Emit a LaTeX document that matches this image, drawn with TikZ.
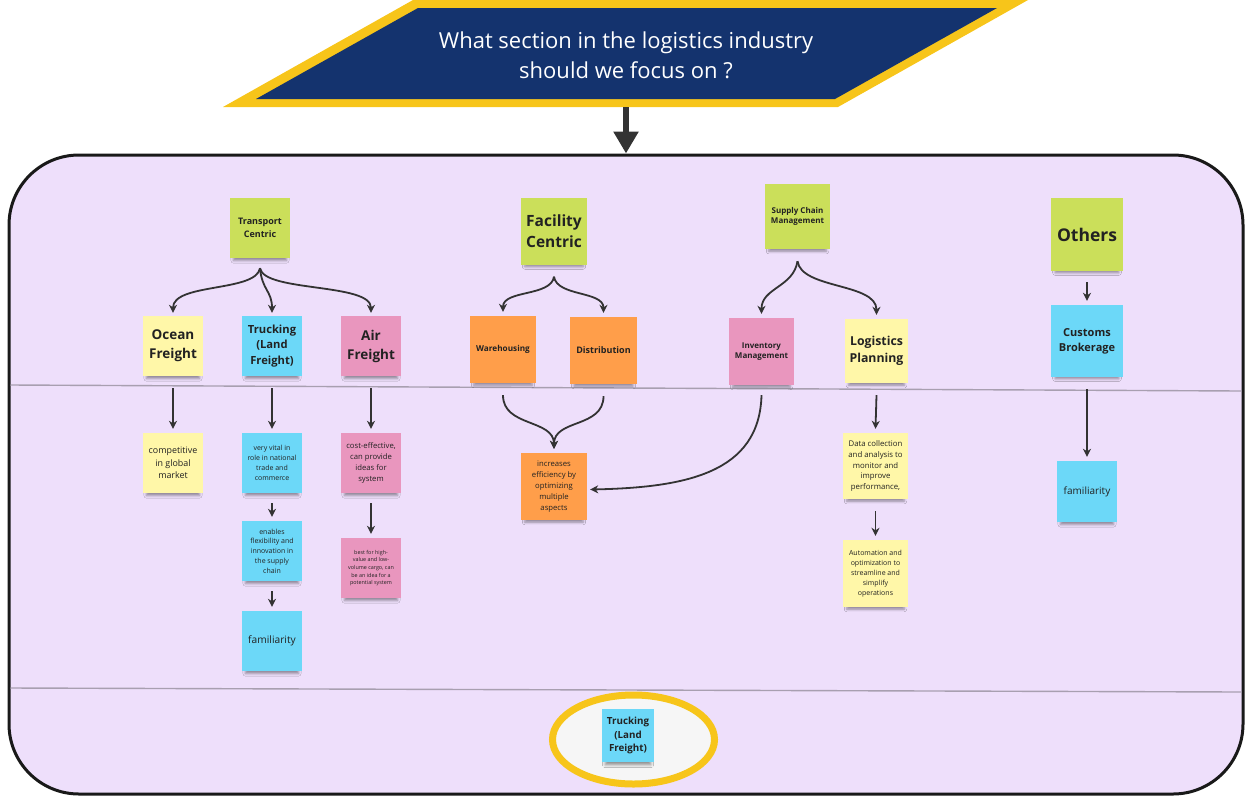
\documentclass[tikz,border=0pt]{standalone}
\usepackage{fontspec}
\setmainfont{Open Sans}
\usetikzlibrary{arrows.meta,shadows.blur,shapes.geometric}

\definecolor{lavender}{HTML}{EEDFFB}
\definecolor{navy}{HTML}{14336E}
\definecolor{gold}{HTML}{F7C51A}
\definecolor{ink}{HTML}{222222}
\definecolor{arrowgray}{HTML}{333333}
\definecolor{divgray}{HTML}{A89FB0}
\definecolor{stGreen}{HTML}{CBDF5A}
\definecolor{stYellow}{HTML}{FFF7A8}
\definecolor{stCyan}{HTML}{6CD8F8}
\definecolor{stPink}{HTML}{E996BE}
\definecolor{stOrange}{HTML}{FF9E4A}
\definecolor{pickfill}{HTML}{F6F6F6}

\newcommand\nf[2]{\fontsize{#1}{#2}\selectfont}

\tikzset{
  note/.style={rectangle, minimum width=60pt, minimum height=60pt, inner sep=1pt,
    align=center, text=ink,
    blur shadow={shadow xshift=0pt, shadow yshift=-7pt, shadow scale=0.88,
      shadow opacity=40, shadow blur radius=3pt}},
  green/.style={note, fill=stGreen},
  yellow/.style={note, fill=stYellow},
  cyan/.style={note, fill=stCyan},
  pink/.style={note, fill=stPink},
  orange/.style={note, fill=stOrange},
  conn/.style={draw=arrowgray, line width=1.8pt,
    -{Stealth[length=8pt,width=8pt,inset=2.5pt]}},
  divider/.style={draw=divgray, line width=1.4pt},
}

\begin{document}
\begin{tikzpicture}[x=1pt,y=-1pt]
\useasboundingbox (0,0) rectangle (1255,796);

% question banner
\fill[gold] (223,107) -- (838,107) -- (1028,0) -- (413,0) -- cycle;
\fill[navy] (256,99) -- (835,99) -- (997,8) -- (418,8) -- cycle;
\node[text=white, align=center, font=\nf{22}{30}] (q) at (626,55)
  {What section in the logistics industry\\should we focus on ?};
\coordinate (qbase) at (626,107);

% main frame
\node[draw=black!90, line width=3pt, fill=lavender, rounded corners=70pt,
  minimum width=1234pt, minimum height=639pt, inner sep=0pt] (frame) at (626,474.5) {};
\draw[arrowgray, line width=6pt, -{Triangle[length=22pt,width=24pt]}]
  (qbase) -- (frame.north);

\draw[divider] (10.5,385) -- (1241.5,391);
\draw[divider] (10.5,688) -- (1241.5,692);

% selected option
\node[ellipse, draw=gold, line width=7pt, fill=pickfill,
  minimum width=162pt, minimum height=89pt] (pick) at (633.5,739.5) {};
\node[cyan, minimum width=52pt, minimum height=53pt, font=\nf{9.8}{13.5}\bfseries]
  (pickt) at (628,735.5) {Trucking\\(Land\\Freight)};

% transport centric
\node[green, font=\nf{9}{12.5}\bfseries] (tc) at (260,228) {Transport\\Centric};
\node[yellow, font=\nf{13.5}{19}\bfseries] (ocean) at (173,346) {Ocean\\Freight};
\node[cyan, font=\nf{11.2}{15.5}\bfseries] (truck) at (272,346) {Trucking\\(Land\\Freight)};
\node[pink, font=\nf{13.5}{19}\bfseries] (air) at (371,346) {Air\\Freight};
\node[yellow, font=\nf{8.9}{12.5}] (comp) at (173,463) {competitive\\in global\\market};
\node[cyan, font=\nf{7}{9.8}] (vital) at (272,463) {very vital in\\role in national\\trade and\\commerce};
\node[pink, font=\nf{7.7}{10.8}] (cost) at (371,463) {cost-effective,\\can provide\\ideas for\\system};
\node[cyan, font=\nf{7}{9.8}] (flex) at (272,551) {enables\\flexibility and\\innovation in\\the supply\\chain};
\node[pink, font=\nf{5.4}{7.6}] (best) at (371,568) {best for high-\\value and low-\\volume cargo, can\\be an idea for a\\potential system};
\node[cyan, font=\nf{10.2}{14}] (famT) at (272,641) {familiarity};

% facility centric
\node[green, minimum width=66pt, minimum height=67pt, font=\nf{15.5}{21}\bfseries] (fc) at (554,231) {Facility\\Centric};
\node[orange, minimum width=66pt, minimum height=67pt, font=\nf{8.2}{11}\bfseries] (wh) at (503,349.5) {Warehousing};
\node[orange, minimum width=67pt, minimum height=67pt, font=\nf{9}{12}\bfseries] (dist) at (603.5,350.5) {Distribution};
\node[orange, minimum width=66pt, minimum height=67pt, font=\nf{7.7}{10.8}] (incr) at (554,486.5) {increases\\efficiency by\\optimizing\\multiple\\aspects};

% supply chain management
\node[green, minimum width=65pt, minimum height=65pt, font=\nf{8}{10.5}\bfseries] (scm) at (797.5,216.5) {Supply Chain\\Management};
\node[pink, minimum width=65pt, minimum height=67pt, font=\nf{8}{10.5}\bfseries] (inv) at (761.5,351.5) {Inventory\\Management};
\node[yellow, minimum width=63pt, minimum height=64pt, font=\nf{12.3}{16.5}\bfseries] (lp) at (876.5,351) {Logistics\\Planning};
\node[yellow, minimum width=65pt, minimum height=66pt, font=\nf{7.8}{10.8}] (data) at (875.5,466) {Data collection\\and analysis to\\monitor and\\improve\\performance,};
\node[yellow, minimum width=65pt, minimum height=67pt, font=\nf{7}{10}] (auto) at (875.5,573.5) {Automation and\\optimization to\\streamline and\\simplify\\operations};

% others
\node[green, minimum width=72pt, minimum height=73pt, font=\nf{17.5}{22}\bfseries] (oth) at (1087,234.5) {Others};
\node[cyan, minimum width=72pt, minimum height=72pt, font=\nf{11}{15}\bfseries] (cust) at (1087,341) {Customs\\Brokerage};
\node[cyan, minimum width=60pt, minimum height=61pt, font=\nf{10}{13}] (famO) at (1087,491.5) {familiarity};

% connectors: transport centric
\draw[conn] ([yshift=-10pt]tc.south) .. controls +(-4,24) and +(0,-30) .. ([yshift=3pt]ocean.north);
\draw[conn] ([yshift=-10pt]tc.south) .. controls +(2,22) and +(0,-22) .. ([yshift=3pt]truck.north);
\draw[conn] ([yshift=-10pt]tc.south) .. controls +(4,24) and +(0,-30) .. ([yshift=3pt]air.north);
\draw[conn] ([yshift=-12pt]ocean.south) -- ([yshift=4pt]comp.north);
\draw[conn] ([yshift=-12pt]truck.south) -- ([yshift=4pt]vital.north);
\draw[conn] ([yshift=-12pt]air.south) -- ([yshift=4pt]cost.north);
\draw[conn] ([yshift=-10pt]vital.south) -- ([yshift=4pt]flex.north);
\draw[conn] ([yshift=-10pt]cost.south) -- ([yshift=4pt]best.north);
\draw[conn] ([yshift=-10pt]flex.south) -- ([yshift=4pt]famT.north);

% connectors: facility centric
\draw[conn] ([yshift=-12pt]fc.south) .. controls +(-3,20) and +(0,-22) .. ([yshift=4pt]wh.north);
\draw[conn] ([yshift=-12pt]fc.south) .. controls +(3,20) and +(0,-22) .. ([yshift=4pt]dist.north);
\draw[conn] ([yshift=-12pt]wh.south) .. controls +(0,32) and +(0,-30) .. ([yshift=4pt]incr.north);
\draw[conn] ([yshift=-12pt]dist.south) .. controls +(0,32) and +(0,-30) .. ([yshift=4pt]incr.north);

% connectors: supply chain management
\draw[conn] ([yshift=-12pt]scm.south) .. controls +(-4,26) and +(0,-26) .. ([yshift=4pt]inv.north);
\draw[conn] ([yshift=-12pt]scm.south) .. controls +(4,28) and +(0,-32) .. ([yshift=4pt]lp.north);
\draw[conn] ([yshift=-10pt]inv.south) .. controls +(-2,78) and +(95,-2) .. ([xshift=3pt,yshift=-3pt]incr.east);
\draw[conn] ([yshift=-12pt]lp.south) -- ([yshift=4pt]data.north);
\draw[conn] ([yshift=-12pt]data.south) -- ([yshift=4pt]auto.north);

% connectors: others
\draw[conn] ([yshift=-11pt]oth.south) -- ([yshift=4pt]cust.north);
\draw[conn] ([yshift=-12pt]cust.south) -- ([yshift=4pt]famO.north);
\end{tikzpicture}
\end{document}
